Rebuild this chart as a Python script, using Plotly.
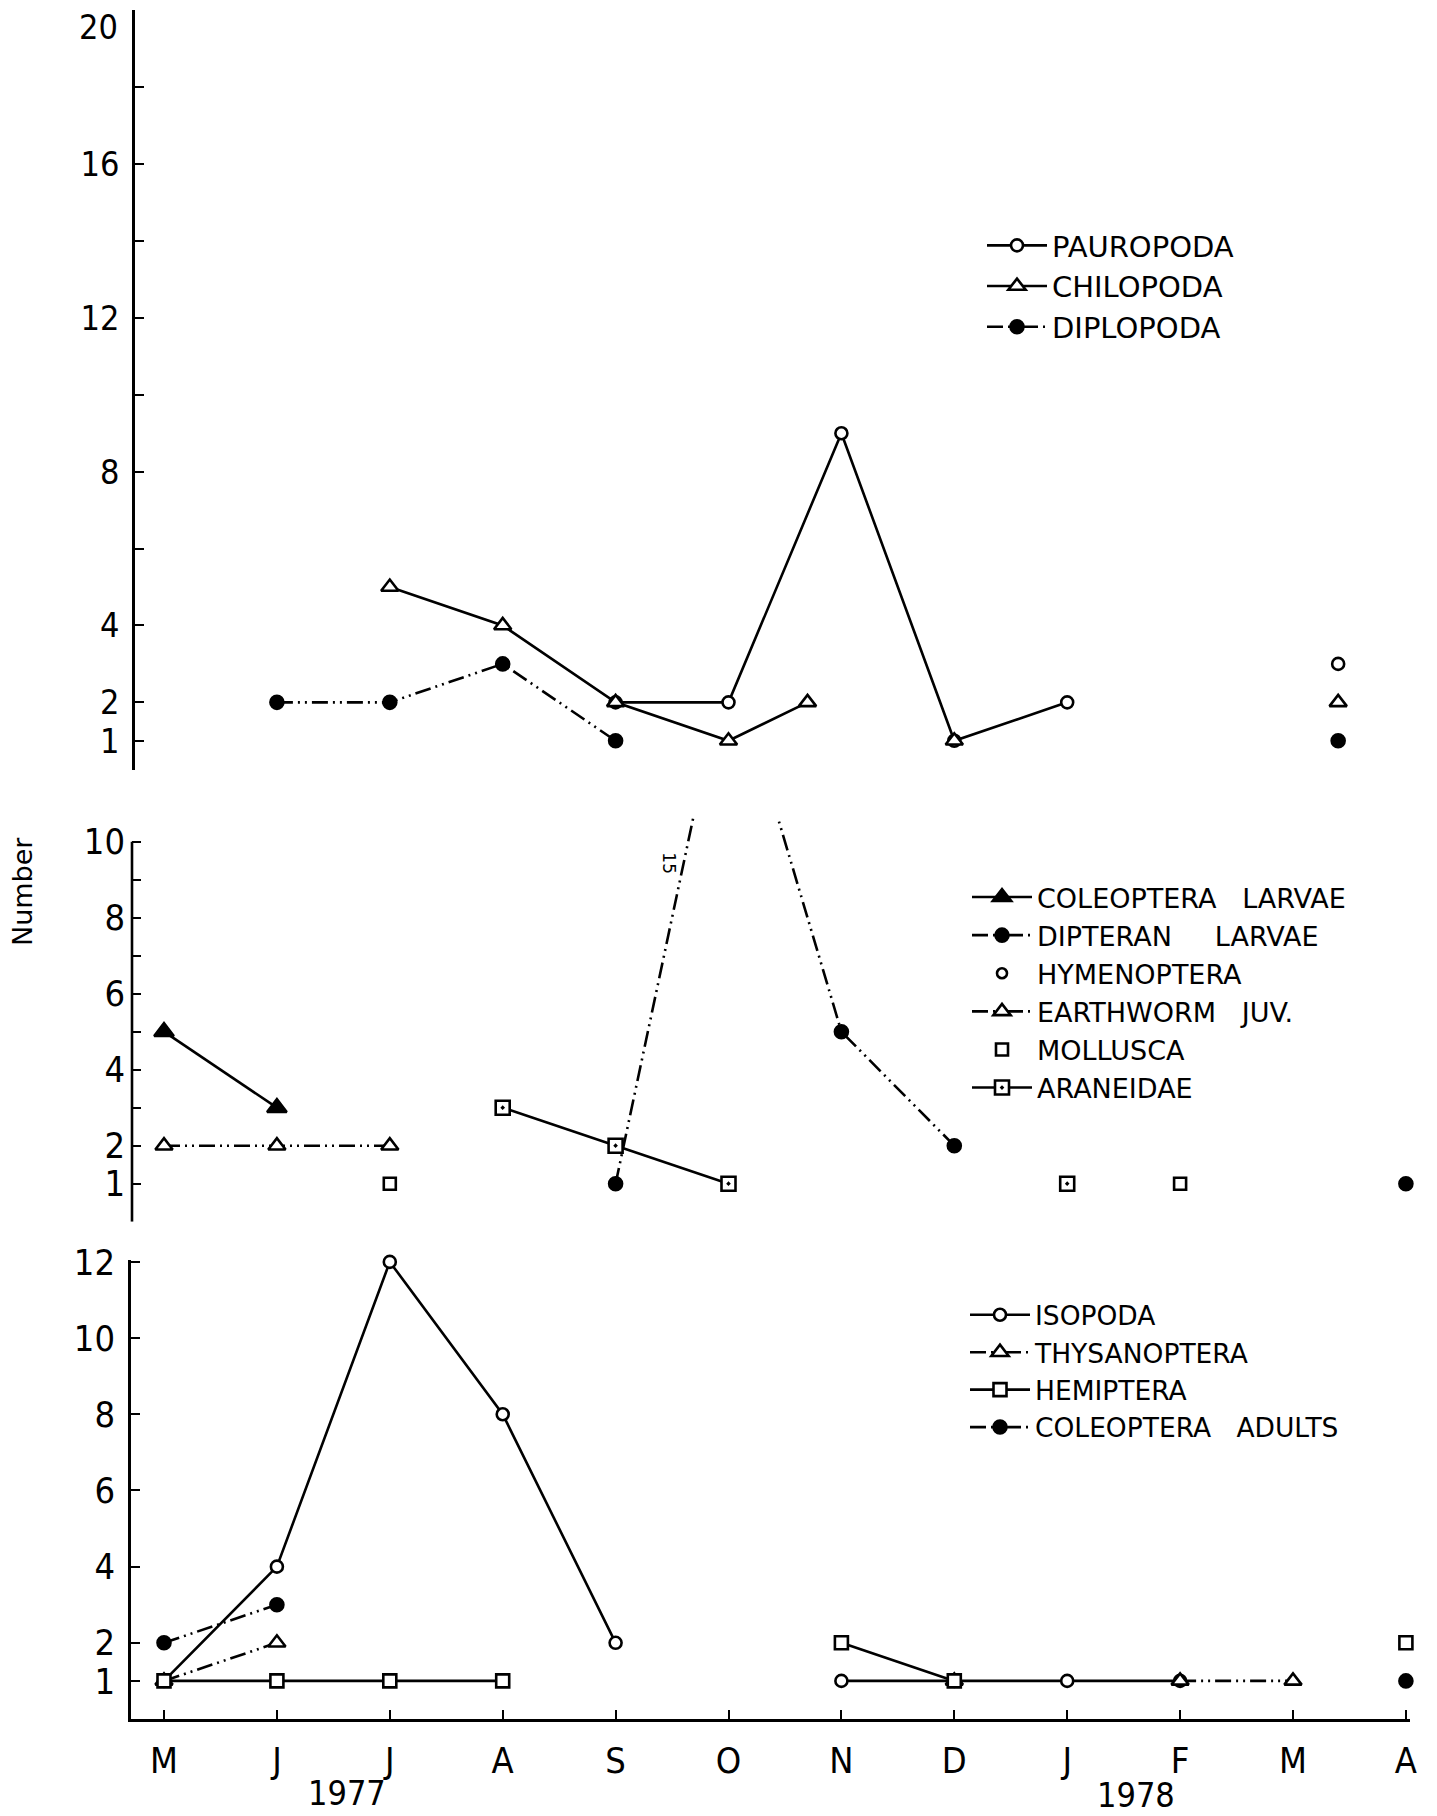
import plotly.graph_objects as go

# ---- month axis ----
MONTHS = ["M", "J", "J", "A", "S", "O", "N", "D", "J", "F", "M", "A"]
MONTH_POS = list(range(12))

# ---- top panel: Myriapoda / Pauropoda ----
PAUROPODA_X = [4, 5, 6, 7, 8, 9, 10.4]
PAUROPODA_Y = [2, 2, 9, 1, 2, None, 3]
CHILOPODA_X = [2, 3, 4, 5, 5.7, 6.5, 7, 8, 10.4]
CHILOPODA_Y = [5, 4, 2, 1, 2, None, 1, None, 2]
DIPLOPODA_X = [1, 2, 3, 4, 6, 10.4]
DIPLOPODA_Y = [2, 2, 3, 1, None, 1]

# ---- middle panel ----
COL_LARVAE_X = [0, 1]
COL_LARVAE_Y = [5, 3]
DIPTERAN_X = [4, 5, 6, 7, 9, 11]
DIPTERAN_Y = [1, 15, 5, 2, None, 1]
HYMENOPTERA_X = [8]
HYMENOPTERA_Y = [1]
EARTHWORM_X = [0, 1, 2]
EARTHWORM_Y = [2, 2, 2]
MOLLUSCA_X = [2, 9]
MOLLUSCA_Y = [1, 1]
ARANEIDAE_X = [3, 4, 5, 6, 8]
ARANEIDAE_Y = [3, 2, 1, None, 1]

# ---- bottom panel ----
ISOPODA_X = [0, 1, 2, 3, 4, 5, 6, 7, 8, 9]
ISOPODA_Y = [1, 4, 12, 8, 2, None, 1, 1, 1, 1]
THYSANOPTERA_X = [0, 1, 3, 7, 8, 9, 10]
THYSANOPTERA_Y = [1, 2, None, 1, None, 1, 1]
HEMIPTERA_X = [0, 1, 2, 3, 5, 6, 7, 9, 11]
HEMIPTERA_Y = [1, 1, 1, 1, None, 2, 1, None, 2]
COL_ADULTS_X = [0, 1, 5, 11]
COL_ADULTS_Y = [2, 3, None, 1]

W, H = 1437, 1816
PX_PER_MONTH = 112.9
M_PX = 164.0          # pixel position of the first month
INK = "black"
DASH_DOT2 = "16px,5px,2px,5px,2px,5px"
SANS = "DejaVu Sans, Liberation Sans, sans-serif"
NARROW = "DejaVu Sans Condensed, Liberation Sans Narrow, DejaVu Sans, sans-serif"


def xrange_for(axis_px, right_px=W):
    left = (axis_px - M_PX) / PX_PER_MONTH
    return [left, left + (right_px - axis_px) / PX_PER_MONTH]


def ydom(top_px, bottom_px):
    return [1 - bottom_px / H, 1 - top_px / H]


fig = go.Figure()


def add(x, y, name, axes, legend, symbol, size, dash=None, mode="lines+markers",
        fill=False, clip=False):
    xa, ya = axes
    fig.add_trace(go.Scatter(
        x=x, y=y, name=name, mode=mode, xaxis=xa, yaxis=ya, legend=legend,
        connectgaps=False, cliponaxis=clip,
        line=dict(color=INK, width=2.6, dash=dash or "solid"),
        marker=dict(symbol=symbol, size=size,
                    color=INK if fill else "white",
                    line=dict(color=INK, width=2.6)),
    ))


TOP = ("x3", "y3")
MID = ("x2", "y2")
BOT = ("x", "y")

add(PAUROPODA_X, PAUROPODA_Y, "PAUROPODA", TOP, "legend", "circle", 12)
add(CHILOPODA_X, CHILOPODA_Y, "CHILOPODA", TOP, "legend", "triangle-up", 15)
add(DIPLOPODA_X, DIPLOPODA_Y, "DIPLOPODA", TOP, "legend", "circle", 13, dash=DASH_DOT2, fill=True)

add(COL_LARVAE_X, COL_LARVAE_Y, "COLEOPTERA\u00a0\u00a0\u00a0LARVAE", MID, "legend2", "triangle-up", 17, fill=True, clip=True)
add(DIPTERAN_X, DIPTERAN_Y, "DIPTERAN\u00a0\u00a0\u00a0\u00a0\u00a0LARVAE", MID, "legend2", "circle", 13, dash=DASH_DOT2, fill=True, clip=True)
add(HYMENOPTERA_X, HYMENOPTERA_Y, "HYMENOPTERA", MID, "legend2", "circle", 10, mode="markers", clip=True)
add(EARTHWORM_X, EARTHWORM_Y, "EARTHWORM\u00a0\u00a0\u00a0JUV.", MID, "legend2", "triangle-up", 15, dash=DASH_DOT2, clip=True)
add(MOLLUSCA_X, MOLLUSCA_Y, "MOLLUSCA", MID, "legend2", "square", 12, mode="markers", clip=True)
add(ARANEIDAE_X, ARANEIDAE_Y, "ARANEIDAE", MID, "legend2", "square-dot", 14, clip=True)

add(ISOPODA_X, ISOPODA_Y, "ISOPODA", BOT, "legend3", "circle", 12)
add(THYSANOPTERA_X, THYSANOPTERA_Y, "THYSANOPTERA", BOT, "legend3", "triangle-up", 15, dash=DASH_DOT2)
add(HEMIPTERA_X, HEMIPTERA_Y, "HEMIPTERA", BOT, "legend3", "square", 13)
add(COL_ADULTS_X, COL_ADULTS_Y, "COLEOPTERA\u00a0\u00a0\u00a0ADULTS", BOT, "legend3", "circle", 13, dash=DASH_DOT2, fill=True)

tick_font = dict(family=NARROW, size=36, color=INK)
top_tick_font = dict(family=NARROW, size=34, color=INK)

common_y = dict(showgrid=False, zeroline=False, ticks="inside", ticklen=9,
                tickwidth=2.4, tickcolor=INK, linecolor=INK, linewidth=2.6,
                tickfont=tick_font, ticklabelstandoff=6, automargin=False,
                ticklabeloverflow="allow")
hidden_x = dict(showgrid=False, zeroline=False, showline=False, ticks="",
                showticklabels=False, automargin=False)

fig.update_layout(
    width=W, height=H,
    margin=dict(l=0, r=0, t=0, b=0, autoexpand=False),
    paper_bgcolor="white", plot_bgcolor="white",
    # bottom panel
    xaxis=dict(domain=[131 / W, 1410 / W], range=xrange_for(131, 1410),
               anchor="y", showgrid=False, zeroline=False, showline=True,
               linecolor=INK, linewidth=2.6, ticks="inside", ticklen=9,
               tickwidth=2.4, tickcolor=INK, tickvals=MONTH_POS, ticktext=MONTHS,
               tickfont=dict(family=NARROW, size=36, color=INK),
               ticklabelstandoff=8, automargin=False, ticklabeloverflow="allow"),
    yaxis=dict(domain=ydom(1260, 1719), range=[0, 12.05], anchor="x",
               showline=True, tickvals=[1, 2, 4, 6, 8, 10, 12], **common_y),
    # middle panel
    xaxis2=dict(domain=[132 / W, 1.0], range=xrange_for(132), anchor="y2", **hidden_x),
    yaxis2=dict(domain=ydom(1221.7 - 10.65 * 38, 1221.7), range=[0, 10.65], anchor="x2",
                showline=False, tickvals=list(range(0, 11)),
                ticktext=["", "1", "2", "", "4", "", "6", "", "8", "", "10"], **common_y),
    # top panel (the "20" label sits just under its tick, added below)
    xaxis3=dict(domain=[135 / W, 1.0], range=xrange_for(135), anchor="y3", **hidden_x),
    yaxis3=dict(domain=ydom(10, 770), range=[0.24, 20.01], anchor="x3",
                showline=True, tickvals=[1, 2, 4, 6, 8, 10, 12, 14, 16, 18, 20],
                ticktext=["1", "2", "4", "", "8", "", "12", "", "16", "", ""],
                **{**common_y, "tickfont": top_tick_font}),
    showlegend=True,
)

legend_common = dict(bgcolor="rgba(0,0,0,0)", borderwidth=0, xanchor="left",
                     yanchor="top", itemwidth=60, itemclick=False, tracegroupgap=0)
fig.update_layout(
    legend=dict(x=982 / W, y=1 - 220 / H,
                font=dict(family=SANS, size=29, color=INK), **legend_common),
    legend2=dict(x=967 / W, y=1 - 873 / H,
                 font=dict(family=SANS, size=27, color=INK), **legend_common),
    legend3=dict(x=965 / W, y=1 - 1291 / H,
                 font=dict(family=SANS, size=26.5, color=INK), **legend_common),
)

# middle panel axis line stops at 10 while the dipteran peak runs off the top
fig.add_shape(type="line", xref="x2 domain", yref="y2", x0=0, x1=0, y0=0, y1=10,
              line=dict(color=INK, width=2.6))

annotations = [
    dict(text="20", x=120 / W, y=1 - 27 / H, xref="paper", yref="paper",
         xanchor="right", yanchor="middle", showarrow=False, font=top_tick_font),
    dict(text="Number", x=23 / W, y=1 - 892 / H, xref="paper", yref="paper",
         xanchor="center", yanchor="middle", textangle=-90, showarrow=False,
         font=dict(family=SANS, size=27, color=INK)),
    dict(text="1977", x=347 / W, y=1 - 1793 / H, xref="paper", yref="paper",
         xanchor="center", yanchor="middle", showarrow=False,
         font=dict(family=NARROW, size=34, color=INK)),
    dict(text="1978", x=1136 / W, y=1 - 1795 / H, xref="paper", yref="paper",
         xanchor="center", yanchor="middle", showarrow=False,
         font=dict(family=NARROW, size=34, color=INK)),
    dict(text="15", x=4.47, y=9.44, xref="x2", yref="y2", textangle=90,
         xanchor="center", yanchor="middle", showarrow=False,
         font=dict(family=SANS, size=17, color=INK)),
]
fig.update_layout(annotations=annotations)

fig.write_html("out.html")
